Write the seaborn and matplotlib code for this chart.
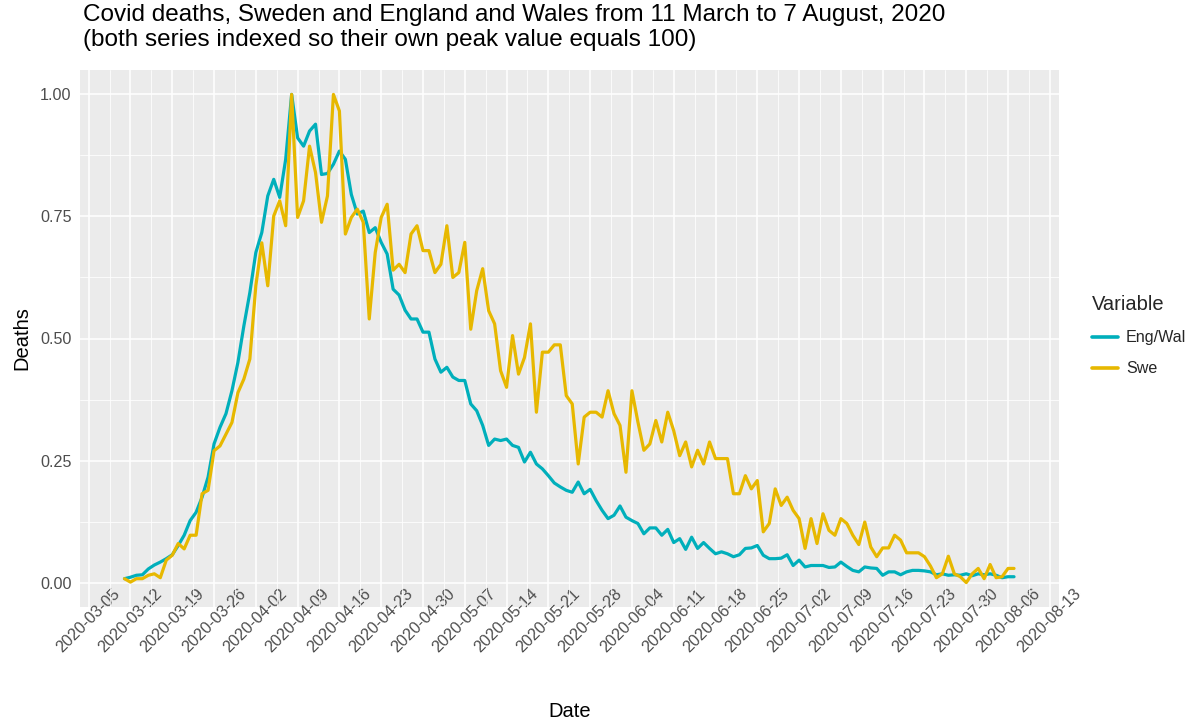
import matplotlib
matplotlib.use("Agg")
import matplotlib.pyplot as plt
import matplotlib.dates as mdates
from matplotlib.transforms import ScaledTranslation
import pandas as pd
import seaborn as sns

# daily deaths, each series indexed to its own peak
start_date = "2020-03-11"

eng_wal = [
    0.008, 0.011, 0.015, 0.016, 0.028, 0.036, 0.042, 0.049, 0.057, 0.076,
    0.097, 0.127, 0.144, 0.175, 0.216, 0.284, 0.318, 0.346, 0.393, 0.451,
    0.526, 0.594, 0.676, 0.717, 0.792, 0.826, 0.789, 0.867, 1.000, 0.911,
    0.894, 0.925, 0.939, 0.836, 0.838, 0.857, 0.884, 0.867, 0.795, 0.755,
    0.761, 0.717, 0.727, 0.697, 0.673, 0.601, 0.589, 0.558, 0.540, 0.540,
    0.513, 0.513, 0.458, 0.431, 0.441, 0.421, 0.414, 0.414, 0.366, 0.352,
    0.322, 0.281, 0.294, 0.291, 0.294, 0.281, 0.277, 0.247, 0.267, 0.243,
    0.233, 0.219, 0.204, 0.196, 0.189, 0.185, 0.206, 0.182, 0.191, 0.168,
    0.148, 0.131, 0.138, 0.157, 0.134, 0.127, 0.121, 0.100, 0.112, 0.112,
    0.097, 0.109, 0.082, 0.090, 0.068, 0.093, 0.070, 0.082, 0.070, 0.059,
    0.063, 0.059, 0.053, 0.057, 0.070, 0.071, 0.076, 0.056, 0.049, 0.049,
    0.050, 0.057, 0.035, 0.046, 0.032, 0.035, 0.035, 0.035, 0.031, 0.032,
    0.042, 0.033, 0.025, 0.022, 0.032, 0.030, 0.029, 0.015, 0.022, 0.022,
    0.016, 0.022, 0.025, 0.025, 0.024, 0.022, 0.016, 0.018, 0.015, 0.016,
    0.015, 0.018, 0.014, 0.018, 0.016, 0.018, 0.015, 0.010, 0.012, 0.012,
]

swe = [
    0.008, 0.001, 0.008, 0.008, 0.015, 0.018, 0.010, 0.046, 0.056, 0.080,
    0.069, 0.097, 0.097, 0.182, 0.189, 0.270, 0.280, 0.304, 0.328, 0.389,
    0.417, 0.458, 0.608, 0.696, 0.608, 0.751, 0.782, 0.731, 1.000, 0.748,
    0.782, 0.894, 0.840, 0.738, 0.792, 1.000, 0.966, 0.714, 0.748, 0.765,
    0.738, 0.540, 0.676, 0.748, 0.775, 0.640, 0.652, 0.635, 0.714, 0.731,
    0.680, 0.680, 0.635, 0.652, 0.731, 0.625, 0.635, 0.697, 0.519, 0.598,
    0.643, 0.557, 0.530, 0.434, 0.400, 0.506, 0.427, 0.461, 0.530, 0.349,
    0.472, 0.472, 0.487, 0.487, 0.383, 0.366, 0.243, 0.339, 0.349, 0.349,
    0.339, 0.393, 0.346, 0.322, 0.226, 0.393, 0.329, 0.271, 0.284, 0.332,
    0.288, 0.349, 0.311, 0.260, 0.288, 0.237, 0.271, 0.243, 0.288, 0.254,
    0.254, 0.254, 0.182, 0.182, 0.219, 0.192, 0.209, 0.104, 0.121, 0.192,
    0.158, 0.175, 0.148, 0.131, 0.070, 0.131, 0.080, 0.141, 0.107, 0.097,
    0.131, 0.121, 0.097, 0.078, 0.124, 0.073, 0.053, 0.071, 0.071, 0.097,
    0.087, 0.061, 0.061, 0.061, 0.053, 0.034, 0.010, 0.018, 0.054, 0.018,
    0.012, 0.000, 0.018, 0.029, 0.008, 0.037, 0.010, 0.012, 0.029, 0.029,
]

series_names = ["Eng/Wal", "Swe"]
series_colors = ["#00AFBB", "#E7B800"]
tick_start, tick_end = "2020-03-05", "2020-08-13"
y_ticks = [0.0, 0.25, 0.5, 0.75, 1.0]

title = ("Covid deaths, Sweden and England and Wales from 11 March to 7 August, 2020\n"
         "(both series indexed so their own peak value equals 100)")

dates = pd.date_range(start_date, periods=len(eng_wal), freq="D")
df = pd.concat([
    pd.DataFrame({"Date": dates, "Variable": series_names[0], "Deaths": eng_wal}),
    pd.DataFrame({"Date": dates, "Variable": series_names[1], "Deaths": swe}),
], ignore_index=True)

sns.set_style("darkgrid", {"axes.facecolor": "#EBEBEB", "grid.color": "white"})
plt.rcParams["font.family"] = ["Liberation Sans", "DejaVu Sans"]

fig = plt.figure(figsize=(11.94, 7.2), dpi=100)
ax = fig.add_axes([80 / 1194, 1 - 607 / 720, 978.5 / 1194, 537 / 720])

sns.lineplot(data=df, x="Date", y="Deaths", hue="Variable",
             palette=dict(zip(series_names, series_colors)),
             linewidth=2.3, estimator=None, ax=ax)

# ggplot-like 5% expansion
span = dates[-1] - dates[0]
ax.set_xlim(mdates.date2num(dates[0] - 0.05 * span), mdates.date2num(dates[-1] + 0.05 * span))
ax.set_ylim(-0.05, 1.05)

ticks = pd.date_range(tick_start, tick_end, freq="7D")
ax.set_xticks(mdates.date2num(ticks))
ax.set_xticks(mdates.date2num(ticks[:-1] + pd.Timedelta(hours=84)), minor=True)
ax.set_xticklabels([t.strftime("%Y-%m-%d") for t in ticks], rotation=45,
                   ha="center", va="center", rotation_mode="anchor")
offset = ScaledTranslation(6 / 100, 0, fig.dpi_scale_trans)
for lab in ax.get_xticklabels():
    lab.set_transform(lab.get_transform() + offset)

ax.set_yticks(y_ticks)
ax.set_yticks([0.125, 0.375, 0.625, 0.875], minor=True)
ax.set_yticklabels([f"{v:.2f}" for v in y_ticks])

ax.grid(which="major", color="white", linewidth=1.1)
ax.grid(which="minor", color="white", linewidth=0.55)
ax.tick_params(axis="both", which="major", length=3, width=0.9, color="#333333",
               labelcolor="#4D4D4D", labelsize=11.6)
ax.tick_params(axis="x", which="major", pad=7)
ax.tick_params(axis="y", which="major", pad=3)
ax.tick_params(which="minor", length=0)
for s in ax.spines.values():
    s.set_visible(False)

ax.set_xlabel("Date", fontsize=14.5, color="black")
ax.set_ylabel("Deaths", fontsize=14.5, color="black")
ax.xaxis.set_label_coords(0.5, -0.176)
ax.yaxis.set_label_coords(-0.05, 0.5)

fig.text(83 / 1194, 1 - 4 / 720, title, ha="left", va="top", fontsize=17.5,
         linespacing=1.15, color="black")

handles, labels = ax.get_legend_handles_labels()
leg = ax.legend(handles, labels, title="Variable", loc="upper left",
                bbox_to_anchor=(1084 / 1194, 1 - 287 / 720), bbox_transform=fig.transFigure,
                frameon=False, fontsize=11.6, title_fontsize=14.5, borderpad=0,
                handlelength=1.6, handletextpad=0.5, labelspacing=1.0, alignment="left")
for h in leg.get_lines():
    h.set_linewidth(2.6)

fig.savefig("out.png", dpi=100)
